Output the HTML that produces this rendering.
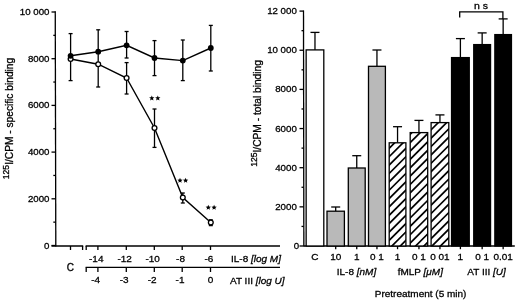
<!DOCTYPE html>
<html><head><meta charset="utf-8"><style>
html,body{margin:0;padding:0;background:#fff;}
svg{display:block;filter:grayscale(1);}
text{font-family:"Liberation Sans", sans-serif;fill:#000;stroke:#000;stroke-width:0.3px;}
</style></head><body>
<svg width="520" height="301" viewBox="0 0 520 301">
<rect width="520" height="301" fill="#fff"/>
<line x1="55.25" y1="11.3" x2="55.8" y2="246.6" stroke="#000" stroke-width="1.3"/>
<line x1="51.5" y1="245.5" x2="55.5" y2="245.5" stroke="#000" stroke-width="1.3"/>
<text transform="translate(49.5,248.5) scale(1,0.9)" text-anchor="end" font-size="9.7" >0</text>
<line x1="51.5" y1="198.8" x2="55.5" y2="198.8" stroke="#000" stroke-width="1.3"/>
<text transform="translate(49.5,201.8) scale(1,0.9)" text-anchor="end" font-size="9.7" >2000</text>
<line x1="51.5" y1="152.10000000000002" x2="55.5" y2="152.10000000000002" stroke="#000" stroke-width="1.3"/>
<text transform="translate(49.5,155.10000000000002) scale(1,0.9)" text-anchor="end" font-size="9.7" >4000</text>
<line x1="51.5" y1="105.4" x2="55.5" y2="105.4" stroke="#000" stroke-width="1.3"/>
<text transform="translate(49.5,108.4) scale(1,0.9)" text-anchor="end" font-size="9.7" >6000</text>
<line x1="51.5" y1="58.70000000000002" x2="55.5" y2="58.70000000000002" stroke="#000" stroke-width="1.3"/>
<text transform="translate(49.5,61.70000000000002) scale(1,0.9)" text-anchor="end" font-size="9.7" >8000</text>
<line x1="51.5" y1="12.0" x2="55.5" y2="12.0" stroke="#000" stroke-width="1.3"/>
<text transform="translate(49.5,15.0) scale(1,0.9)" text-anchor="end" font-size="9.7" >10 000</text>
<line x1="53.3" y1="222.15" x2="55.5" y2="222.15" stroke="#000" stroke-width="1.3"/>
<line x1="53.3" y1="175.45" x2="55.5" y2="175.45" stroke="#000" stroke-width="1.3"/>
<line x1="53.3" y1="128.75" x2="55.5" y2="128.75" stroke="#000" stroke-width="1.3"/>
<line x1="53.3" y1="82.05000000000001" x2="55.5" y2="82.05000000000001" stroke="#000" stroke-width="1.3"/>
<line x1="53.3" y1="35.349999999999994" x2="55.5" y2="35.349999999999994" stroke="#000" stroke-width="1.3"/>
<line x1="51.5" y1="246.0" x2="83.2" y2="246.0" stroke="#000" stroke-width="1.3"/>
<line x1="70.5" y1="246.0" x2="70.5" y2="250" stroke="#000" stroke-width="1.3"/>
<line x1="82.6" y1="246.0" x2="82.6" y2="250" stroke="#000" stroke-width="1.3"/>
<line x1="85.6" y1="246.0" x2="280.0" y2="246.0" stroke="#000" stroke-width="1.3"/>
<line x1="86.2" y1="246.0" x2="86.2" y2="250" stroke="#000" stroke-width="1.3"/>
<line x1="97.9" y1="246.0" x2="97.9" y2="250" stroke="#000" stroke-width="1.3"/>
<line x1="126.3" y1="246.0" x2="126.3" y2="250" stroke="#000" stroke-width="1.3"/>
<line x1="154.3" y1="246.0" x2="154.3" y2="250" stroke="#000" stroke-width="1.3"/>
<line x1="182.2" y1="246.0" x2="182.2" y2="250" stroke="#000" stroke-width="1.3"/>
<line x1="210.5" y1="246.0" x2="210.5" y2="250" stroke="#000" stroke-width="1.3"/>
<line x1="85.6" y1="267.4" x2="280.0" y2="267.4" stroke="#000" stroke-width="1.3"/>
<line x1="86.2" y1="267.4" x2="86.2" y2="272" stroke="#000" stroke-width="1.3"/>
<line x1="97.9" y1="267.4" x2="97.9" y2="272" stroke="#000" stroke-width="1.3"/>
<line x1="126.3" y1="267.4" x2="126.3" y2="272" stroke="#000" stroke-width="1.3"/>
<line x1="154.3" y1="267.4" x2="154.3" y2="272" stroke="#000" stroke-width="1.3"/>
<line x1="182.2" y1="267.4" x2="182.2" y2="272" stroke="#000" stroke-width="1.3"/>
<line x1="210.5" y1="267.4" x2="210.5" y2="272" stroke="#000" stroke-width="1.3"/>
<text transform="translate(96.23,262.3) scale(1,0.9)" text-anchor="middle" font-size="10" >-14</text>
<text transform="translate(124.63,262.3) scale(1,0.9)" text-anchor="middle" font-size="10" >-12</text>
<text transform="translate(152.63000000000002,262.3) scale(1,0.9)" text-anchor="middle" font-size="10" >-10</text>
<text transform="translate(180.53,262.3) scale(1,0.9)" text-anchor="middle" font-size="10" >-8</text>
<text transform="translate(208.83,262.3) scale(1,0.9)" text-anchor="middle" font-size="10" >-6</text>
<text transform="translate(95.7,282.6) scale(1,0.9)" text-anchor="middle" font-size="10" >-4</text>
<text transform="translate(124.1,282.6) scale(1,0.9)" text-anchor="middle" font-size="10" >-3</text>
<text transform="translate(152.10000000000002,282.6) scale(1,0.9)" text-anchor="middle" font-size="10" >-2</text>
<text transform="translate(180.0,282.6) scale(1,0.9)" text-anchor="middle" font-size="10" >-1</text>
<text transform="translate(210.5,282.6) scale(1,0.9)" text-anchor="middle" font-size="10" >0</text>
<text transform="translate(70.3,271.0) scale(1,1.0)" text-anchor="middle" font-size="10" >C</text>
<text transform="translate(231,262.3) scale(1,0.9)" text-anchor="start" font-size="10" >IL-8 <tspan font-style="italic">[log M]</tspan></text>
<text transform="translate(230,283.5) scale(1,0.9)" text-anchor="start" font-size="10" >AT III <tspan font-style="italic">[log U]</tspan></text>
<line x1="70.6" y1="33.6" x2="70.6" y2="80.6" stroke="#000" stroke-width="1.3"/>
<line x1="68.6" y1="33.6" x2="72.6" y2="33.6" stroke="#000" stroke-width="1.3"/>
<line x1="68.6" y1="80.6" x2="72.6" y2="80.6" stroke="#000" stroke-width="1.3"/>
<line x1="98.2" y1="29.8" x2="98.2" y2="87.0" stroke="#000" stroke-width="1.3"/>
<line x1="96.2" y1="29.8" x2="100.2" y2="29.8" stroke="#000" stroke-width="1.3"/>
<line x1="96.2" y1="87.0" x2="100.2" y2="87.0" stroke="#000" stroke-width="1.3"/>
<line x1="126.6" y1="31.5" x2="126.6" y2="58.0" stroke="#000" stroke-width="1.3"/>
<line x1="124.6" y1="31.5" x2="128.6" y2="31.5" stroke="#000" stroke-width="1.3"/>
<line x1="124.6" y1="58.0" x2="128.6" y2="58.0" stroke="#000" stroke-width="1.3"/>
<line x1="126.6" y1="62.6" x2="126.6" y2="94.0" stroke="#000" stroke-width="1.3"/>
<line x1="124.6" y1="62.6" x2="128.6" y2="62.6" stroke="#000" stroke-width="1.3"/>
<line x1="124.6" y1="94.0" x2="128.6" y2="94.0" stroke="#000" stroke-width="1.3"/>
<line x1="154.5" y1="40.6" x2="154.5" y2="75.6" stroke="#000" stroke-width="1.3"/>
<line x1="152.5" y1="40.6" x2="156.5" y2="40.6" stroke="#000" stroke-width="1.3"/>
<line x1="152.5" y1="75.6" x2="156.5" y2="75.6" stroke="#000" stroke-width="1.3"/>
<line x1="154.5" y1="109.0" x2="154.5" y2="147.4" stroke="#000" stroke-width="1.3"/>
<line x1="152.5" y1="109.0" x2="156.5" y2="109.0" stroke="#000" stroke-width="1.3"/>
<line x1="152.5" y1="147.4" x2="156.5" y2="147.4" stroke="#000" stroke-width="1.3"/>
<line x1="182.8" y1="40.0" x2="182.8" y2="80.6" stroke="#000" stroke-width="1.3"/>
<line x1="180.8" y1="40.0" x2="184.8" y2="40.0" stroke="#000" stroke-width="1.3"/>
<line x1="180.8" y1="80.6" x2="184.8" y2="80.6" stroke="#000" stroke-width="1.3"/>
<line x1="182.8" y1="193.0" x2="182.8" y2="203.0" stroke="#000" stroke-width="1.3"/>
<line x1="180.8" y1="193.0" x2="184.8" y2="193.0" stroke="#000" stroke-width="1.3"/>
<line x1="180.8" y1="203.0" x2="184.8" y2="203.0" stroke="#000" stroke-width="1.3"/>
<line x1="210.8" y1="25.4" x2="210.8" y2="71.0" stroke="#000" stroke-width="1.3"/>
<line x1="208.8" y1="25.4" x2="212.8" y2="25.4" stroke="#000" stroke-width="1.3"/>
<line x1="208.8" y1="71.0" x2="212.8" y2="71.0" stroke="#000" stroke-width="1.3"/>
<line x1="210.8" y1="219.8" x2="210.8" y2="225.6" stroke="#000" stroke-width="1.3"/>
<line x1="208.8" y1="219.8" x2="212.8" y2="219.8" stroke="#000" stroke-width="1.3"/>
<line x1="208.8" y1="225.6" x2="212.8" y2="225.6" stroke="#000" stroke-width="1.3"/>
<polyline fill="none" stroke="#000" stroke-width="1.4" points="70.6,59.0 98.2,64.2 126.6,78.0 154.5,128.0 182.8,197.6 210.8,222.5"/>
<polyline fill="none" stroke="#000" stroke-width="1.4" points="70.6,55.8 98.2,51.7 126.6,45.3 154.5,58.0 182.8,60.6 210.8,48.0"/>
<circle cx="70.6" cy="59.0" r="2.4" fill="#fff" stroke="#000" stroke-width="1.3"/>
<circle cx="98.2" cy="64.2" r="2.4" fill="#fff" stroke="#000" stroke-width="1.3"/>
<circle cx="126.6" cy="78.0" r="2.4" fill="#fff" stroke="#000" stroke-width="1.3"/>
<circle cx="154.5" cy="128.0" r="2.4" fill="#fff" stroke="#000" stroke-width="1.3"/>
<circle cx="182.8" cy="197.6" r="2.4" fill="#fff" stroke="#000" stroke-width="1.3"/>
<circle cx="210.8" cy="222.5" r="2.4" fill="#fff" stroke="#000" stroke-width="1.3"/>
<circle cx="70.6" cy="55.8" r="2.9" fill="#000"/>
<circle cx="98.2" cy="51.7" r="2.9" fill="#000"/>
<circle cx="126.6" cy="45.3" r="2.9" fill="#000"/>
<circle cx="154.5" cy="58.0" r="2.9" fill="#000"/>
<circle cx="182.8" cy="60.6" r="2.9" fill="#000"/>
<circle cx="210.8" cy="48.0" r="2.9" fill="#000"/>
<polygon fill="#000" points="151.80,95.40 152.53,97.19 154.46,97.33 152.99,98.59 153.45,100.47 151.80,99.45 150.15,100.47 150.61,98.59 149.14,97.33 151.07,97.19"/>
<polygon fill="#000" points="157.80,95.40 158.53,97.19 160.46,97.33 158.99,98.59 159.45,100.47 157.80,99.45 156.15,100.47 156.61,98.59 155.14,97.33 157.07,97.19"/>
<polygon fill="#000" points="180.00,177.80 180.73,179.59 182.66,179.73 181.19,180.99 181.65,182.87 180.00,181.85 178.35,182.87 178.81,180.99 177.34,179.73 179.27,179.59"/>
<polygon fill="#000" points="185.60,177.80 186.33,179.59 188.26,179.73 186.79,180.99 187.25,182.87 185.60,181.85 183.95,182.87 184.41,180.99 182.94,179.73 184.87,179.59"/>
<polygon fill="#000" points="208.30,204.80 209.03,206.59 210.96,206.73 209.49,207.99 209.95,209.87 208.30,208.85 206.65,209.87 207.11,207.99 205.64,206.73 207.57,206.59"/>
<polygon fill="#000" points="214.10,204.80 214.83,206.59 216.76,206.73 215.29,207.99 215.75,209.87 214.10,208.85 212.45,209.87 212.91,207.99 211.44,206.73 213.37,206.59"/>
<text transform="translate(13.4,179.2) rotate(-90)" font-size="10.2" text-anchor="start"><tspan font-size="8.6" dy="-4">125</tspan><tspan dy="4">I/CPM - specific binding</tspan></text>
<line x1="303.5" y1="10.5" x2="303.85" y2="246.6" stroke="#000" stroke-width="1.3"/>
<line x1="299.5" y1="246.0" x2="303.7" y2="246.0" stroke="#000" stroke-width="1.3"/>
<text transform="translate(299.1,249.0) scale(1,0.9)" text-anchor="end" font-size="9.7" >0</text>
<line x1="299.5" y1="206.85" x2="303.7" y2="206.85" stroke="#000" stroke-width="1.3"/>
<text transform="translate(296.8,209.85) scale(1,0.9)" text-anchor="end" font-size="9.7" >2000</text>
<line x1="299.5" y1="167.7" x2="303.7" y2="167.7" stroke="#000" stroke-width="1.3"/>
<text transform="translate(296.8,170.7) scale(1,0.9)" text-anchor="end" font-size="9.7" >4000</text>
<line x1="299.5" y1="128.55" x2="303.7" y2="128.55" stroke="#000" stroke-width="1.3"/>
<text transform="translate(296.8,131.55) scale(1,0.9)" text-anchor="end" font-size="9.7" >6000</text>
<line x1="299.5" y1="89.4" x2="303.7" y2="89.4" stroke="#000" stroke-width="1.3"/>
<text transform="translate(296.8,92.4) scale(1,0.9)" text-anchor="end" font-size="9.7" >8000</text>
<line x1="299.5" y1="50.25" x2="303.7" y2="50.25" stroke="#000" stroke-width="1.3"/>
<text transform="translate(296.8,53.25) scale(1,0.9)" text-anchor="end" font-size="9.7" >10 000</text>
<line x1="299.5" y1="11.100000000000023" x2="303.7" y2="11.100000000000023" stroke="#000" stroke-width="1.3"/>
<text transform="translate(296.8,14.100000000000023) scale(1,0.9)" text-anchor="end" font-size="9.7" >12 000</text>
<line x1="301.5" y1="226.425" x2="303.7" y2="226.425" stroke="#000" stroke-width="1.3"/>
<line x1="301.5" y1="187.275" x2="303.7" y2="187.275" stroke="#000" stroke-width="1.3"/>
<line x1="301.5" y1="148.125" x2="303.7" y2="148.125" stroke="#000" stroke-width="1.3"/>
<line x1="301.5" y1="108.97500000000002" x2="303.7" y2="108.97500000000002" stroke="#000" stroke-width="1.3"/>
<line x1="301.5" y1="69.82500000000002" x2="303.7" y2="69.82500000000002" stroke="#000" stroke-width="1.3"/>
<line x1="301.5" y1="30.67500000000001" x2="303.7" y2="30.67500000000001" stroke="#000" stroke-width="1.3"/>
<line x1="303.7" y1="246" x2="514.8" y2="246" stroke="#000" stroke-width="1.3"/>
<line x1="314.975" y1="32.4" x2="314.975" y2="49.9" stroke="#000" stroke-width="1.3"/>
<line x1="310.475" y1="32.4" x2="319.475" y2="32.4" stroke="#000" stroke-width="1.3"/>
<rect x="306.15" y="49.9" width="17.650000000000034" height="196.1" fill="#fff" stroke="#000" stroke-width="1.3"/>
<line x1="335.7" y1="207.0" x2="335.7" y2="211.2" stroke="#000" stroke-width="1.3"/>
<line x1="331.2" y1="207.0" x2="340.2" y2="207.0" stroke="#000" stroke-width="1.3"/>
<rect x="327.0" y="211.2" width="17.399999999999977" height="34.80000000000001" fill="#b9b9b9" stroke="#000" stroke-width="1.3"/>
<line x1="356.75" y1="155.70000000000002" x2="356.75" y2="168.0" stroke="#000" stroke-width="1.3"/>
<line x1="352.25" y1="155.70000000000002" x2="361.25" y2="155.70000000000002" stroke="#000" stroke-width="1.3"/>
<rect x="348.3" y="168.0" width="16.899999999999977" height="78.0" fill="#b9b9b9" stroke="#000" stroke-width="1.3"/>
<line x1="376.95" y1="50.0" x2="376.95" y2="66.3" stroke="#000" stroke-width="1.3"/>
<line x1="372.45" y1="50.0" x2="381.45" y2="50.0" stroke="#000" stroke-width="1.3"/>
<rect x="368.5" y="66.3" width="16.899999999999977" height="179.7" fill="#b9b9b9" stroke="#000" stroke-width="1.3"/>
<line x1="397.54999999999995" y1="126.7" x2="397.54999999999995" y2="142.79999999999998" stroke="#000" stroke-width="1.3"/>
<line x1="393.04999999999995" y1="126.7" x2="402.04999999999995" y2="126.7" stroke="#000" stroke-width="1.3"/>
<rect x="389.2" y="142.79999999999998" width="16.69999999999999" height="103.20000000000002" fill="#fff"/>
<clipPath id="c4"><rect x="389.2" y="142.79999999999998" width="16.69999999999999" height="103.20000000000002"/></clipPath>
<path clip-path="url(#c4)" d="M387.20,141.91L407.90,121.21 M387.20,150.28L407.90,129.58 M387.20,158.65L407.90,137.95 M387.20,167.02L407.90,146.32 M387.20,175.39L407.90,154.69 M387.20,183.76L407.90,163.06 M387.20,192.13L407.90,171.43 M387.20,200.50L407.90,179.80 M387.20,208.87L407.90,188.17 M387.20,217.24L407.90,196.54 M387.20,225.61L407.90,204.91 M387.20,233.98L407.90,213.28 M387.20,242.35L407.90,221.65 M387.20,250.72L407.90,230.02 M387.20,259.09L407.90,238.39 M387.20,267.46L407.90,246.76" stroke="#000" stroke-width="1.7" fill="none"/>
<rect x="389.2" y="142.79999999999998" width="16.69999999999999" height="103.20000000000002" fill="none" stroke="#000" stroke-width="1.3"/>
<line x1="418.95" y1="120.4" x2="418.95" y2="132.6" stroke="#000" stroke-width="1.3"/>
<line x1="414.45" y1="120.4" x2="423.45" y2="120.4" stroke="#000" stroke-width="1.3"/>
<rect x="410.2" y="132.6" width="17.5" height="113.4" fill="#fff"/>
<clipPath id="c5"><rect x="410.2" y="132.6" width="17.5" height="113.4"/></clipPath>
<path clip-path="url(#c5)" d="M408.20,127.88L429.70,106.38 M408.20,136.25L429.70,114.75 M408.20,144.62L429.70,123.12 M408.20,152.99L429.70,131.49 M408.20,161.36L429.70,139.86 M408.20,169.73L429.70,148.23 M408.20,178.10L429.70,156.60 M408.20,186.47L429.70,164.97 M408.20,194.84L429.70,173.34 M408.20,203.21L429.70,181.71 M408.20,211.58L429.70,190.08 M408.20,219.95L429.70,198.45 M408.20,228.32L429.70,206.82 M408.20,236.69L429.70,215.19 M408.20,245.06L429.70,223.56 M408.20,253.43L429.70,231.93 M408.20,261.80L429.70,240.30 M408.20,270.17L429.70,248.67" stroke="#000" stroke-width="1.7" fill="none"/>
<rect x="410.2" y="132.6" width="17.5" height="113.4" fill="none" stroke="#000" stroke-width="1.3"/>
<line x1="439.95000000000005" y1="114.9" x2="439.95000000000005" y2="122.6" stroke="#000" stroke-width="1.3"/>
<line x1="435.45000000000005" y1="114.9" x2="444.45000000000005" y2="114.9" stroke="#000" stroke-width="1.3"/>
<rect x="431.1" y="122.6" width="17.69999999999999" height="123.4" fill="#fff"/>
<clipPath id="c6"><rect x="431.1" y="122.6" width="17.69999999999999" height="123.4"/></clipPath>
<path clip-path="url(#c6)" d="M429.10,123.42L450.80,101.72 M429.10,131.79L450.80,110.09 M429.10,140.16L450.80,118.46 M429.10,148.53L450.80,126.83 M429.10,156.90L450.80,135.20 M429.10,165.27L450.80,143.57 M429.10,173.64L450.80,151.94 M429.10,182.01L450.80,160.31 M429.10,190.38L450.80,168.68 M429.10,198.75L450.80,177.05 M429.10,207.12L450.80,185.42 M429.10,215.49L450.80,193.79 M429.10,223.86L450.80,202.16 M429.10,232.23L450.80,210.53 M429.10,240.60L450.80,218.90 M429.10,248.97L450.80,227.27 M429.10,257.34L450.80,235.64 M429.10,265.71L450.80,244.01" stroke="#000" stroke-width="1.7" fill="none"/>
<rect x="431.1" y="122.6" width="17.69999999999999" height="123.4" fill="none" stroke="#000" stroke-width="1.3"/>
<line x1="460.4" y1="38.6" x2="460.4" y2="57.6" stroke="#000" stroke-width="1.3"/>
<line x1="455.9" y1="38.6" x2="464.9" y2="38.6" stroke="#000" stroke-width="1.3"/>
<rect x="451.55" y="57.6" width="17.69999999999999" height="188.4" fill="#000" stroke="#000" stroke-width="1.3"/>
<line x1="482.15" y1="32.9" x2="482.15" y2="44.6" stroke="#000" stroke-width="1.3"/>
<line x1="477.65" y1="32.9" x2="486.65" y2="32.9" stroke="#000" stroke-width="1.3"/>
<rect x="473.75" y="44.6" width="16.80000000000001" height="201.4" fill="#000" stroke="#000" stroke-width="1.3"/>
<line x1="503.15" y1="18.9" x2="503.15" y2="34.6" stroke="#000" stroke-width="1.3"/>
<line x1="498.65" y1="18.9" x2="507.65" y2="18.9" stroke="#000" stroke-width="1.3"/>
<rect x="494.85" y="34.6" width="16.599999999999966" height="211.4" fill="#000" stroke="#000" stroke-width="1.3"/>
<line x1="335.7" y1="246" x2="335.7" y2="249.2" stroke="#000" stroke-width="1.3"/>
<line x1="356.75" y1="246" x2="356.75" y2="249.2" stroke="#000" stroke-width="1.3"/>
<line x1="376.95" y1="246" x2="376.95" y2="249.2" stroke="#000" stroke-width="1.3"/>
<line x1="397.54999999999995" y1="246" x2="397.54999999999995" y2="249.2" stroke="#000" stroke-width="1.3"/>
<line x1="418.95" y1="246" x2="418.95" y2="249.2" stroke="#000" stroke-width="1.3"/>
<line x1="439.95000000000005" y1="246" x2="439.95000000000005" y2="249.2" stroke="#000" stroke-width="1.3"/>
<line x1="460.4" y1="246" x2="460.4" y2="249.2" stroke="#000" stroke-width="1.3"/>
<line x1="482.15" y1="246" x2="482.15" y2="249.2" stroke="#000" stroke-width="1.3"/>
<line x1="503.15" y1="246" x2="503.15" y2="249.2" stroke="#000" stroke-width="1.3"/>
<text transform="translate(314.975,259.6) scale(1,0.9)" text-anchor="middle" font-size="10" >C</text>
<text transform="translate(335.7,259.6) scale(1,0.9)" text-anchor="middle" font-size="10" >10</text>
<text transform="translate(356.75,259.6) scale(1,0.9)" text-anchor="middle" font-size="10" >1</text>
<text transform="translate(376.95,259.6) scale(1,0.9)" text-anchor="middle" font-size="10" >0 1</text>
<text transform="translate(397.54999999999995,259.6) scale(1,0.9)" text-anchor="middle" font-size="10" >1</text>
<text transform="translate(418.95,259.6) scale(1,0.9)" text-anchor="middle" font-size="10" >0 1</text>
<text transform="translate(439.95000000000005,259.6) scale(1,0.9)" text-anchor="middle" font-size="10" >0 01</text>
<text transform="translate(460.4,259.6) scale(1,0.9)" text-anchor="middle" font-size="10" >1</text>
<text transform="translate(482.15,259.6) scale(1,0.9)" text-anchor="middle" font-size="10" >0 1</text>
<text transform="translate(503.15,259.6) scale(1,0.9)" text-anchor="middle" font-size="10" >0.01</text>
<text transform="translate(356.5,274.5) scale(1,0.9)" text-anchor="middle" font-size="10" >IL-8 <tspan font-style="italic">[nM]</tspan></text>
<text transform="translate(420.3,274.5) scale(1,0.9)" text-anchor="middle" font-size="10" >fMLP <tspan font-style="italic">[μM]</tspan></text>
<text transform="translate(486.5,274.5) scale(1,0.9)" text-anchor="middle" font-size="10" >AT III <tspan font-style="italic">[U]</tspan></text>
<text transform="translate(420.6,296.5) scale(1,0.9)" text-anchor="middle" font-size="10" >Pretreatment (5 min)</text>
<polyline fill="none" stroke="#000" stroke-width="1.3" points="459.7,17.4 459.7,11.8 502.9,11.8 502.9,19"/>
<text transform="translate(481,8.9) scale(1,0.9)" text-anchor="middle" font-size="10.5" >n s</text>
<text transform="translate(261.3,166.8) rotate(-90)" font-size="10.2" text-anchor="start"><tspan font-size="8.6" dy="-4">125</tspan><tspan dy="4">I/CPM - total binding</tspan></text>
</svg></body></html>
